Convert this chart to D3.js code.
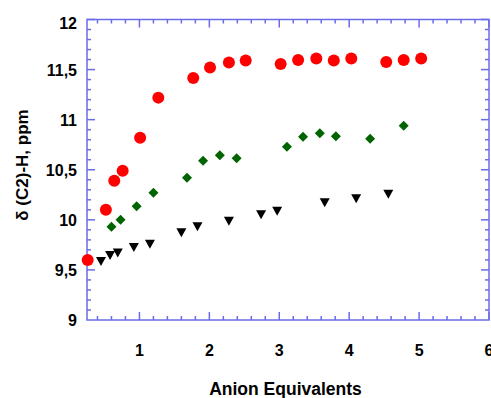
<!DOCTYPE html>
<html>
<head>
<meta charset="utf-8">
<script src="https://cdn.jsdelivr.net/npm/d3@7"></script>
<style>
  body { margin: 0; background: #fff; }
  svg text { font-family: "Liberation Sans", Arial, sans-serif; font-weight: bold; fill: #000; }
</style>
</head>
<body>
<script>
// red circles
const redX = [0.26, 0.52, 0.64, 0.76, 1.01, 1.27, 1.77, 2.01, 2.28, 2.52, 3.02, 3.27, 3.53, 3.78, 4.03, 4.53, 4.78, 5.03];
const redY = [9.6, 10.1, 10.39, 10.49, 10.82, 11.22, 11.415, 11.52, 11.57, 11.59, 11.555, 11.595, 11.61, 11.59, 11.61, 11.575, 11.595, 11.61];
// green diamonds
const greenX = [0.60, 0.73, 0.96, 1.20, 1.68, 1.91, 2.15, 2.39, 3.11, 3.34, 3.58, 3.81, 4.30, 4.78];
const greenY = [9.93, 10.0, 10.135, 10.27, 10.42, 10.59, 10.645, 10.615, 10.73, 10.83, 10.865, 10.835, 10.81, 10.94];
// black triangles
const blackX = [0.45, 0.58, 0.69, 0.92, 1.15, 1.60, 1.83, 2.28, 2.74, 2.97, 3.65, 4.10, 4.56];
const blackY = [9.59, 9.65, 9.675, 9.73, 9.76, 9.875, 9.935, 9.99, 10.055, 10.09, 10.175, 10.215, 10.26];

const xTicks = [1, 2, 3, 4, 5, 6];
const yTicks = [9, 9.5, 10, 10.5, 11, 11.5, 12];

const width = 491, height = 398;
const plotLeft = 87, plotRight = 489, plotTop = 19.5, plotBottom = 320;
const axisColor = '#6b6bea';

const svg = d3.select('body').append('svg')
  .attr('width', width)
  .attr('height', height);

const x = d3.scaleLinear().domain([0.25, 6]).range([plotLeft, plotRight]);
const y = d3.scaleLinear().domain([9, 12]).range([plotBottom, plotTop]);

const fmt = v => String(v).replace('.', ',');

// frame
const frame = svg.append('g')
  .attr('stroke', axisColor)
  .attr('stroke-width', 1.5)
  .attr('fill', 'none');
frame.append('rect')
  .attr('x', plotLeft).attr('y', plotTop)
  .attr('width', plotRight - plotLeft).attr('height', plotBottom - plotTop);

// x ticks (minor every 0.2, major on integers), bottom and top, pointing inward
const xMinor = d3.range(0.4, 6.001, 0.2).map(v => +v.toFixed(1));
xMinor.forEach(v => {
  const major = Math.abs(v - Math.round(v)) < 1e-6;
  const len = major ? 8 : 4;
  frame.append('line')
    .attr('x1', x(v)).attr('x2', x(v))
    .attr('y1', plotBottom).attr('y2', plotBottom - len);
  frame.append('line')
    .attr('x1', x(v)).attr('x2', x(v))
    .attr('y1', plotTop).attr('y2', plotTop + len);
});

// y ticks (minor every 0.1, major every 0.5), left and right
const yMinor = d3.range(9.1, 12.0, 0.1).map(v => +v.toFixed(1));
yMinor.forEach(v => {
  const major = Math.abs(v * 2 - Math.round(v * 2)) < 1e-6;
  const len = major ? 8 : 4;
  frame.append('line')
    .attr('x1', plotLeft).attr('x2', plotLeft + len)
    .attr('y1', y(v)).attr('y2', y(v));
  frame.append('line')
    .attr('x1', plotRight).attr('x2', plotRight - len)
    .attr('y1', y(v)).attr('y2', y(v));
});

// tick labels
svg.append('g').selectAll('text')
  .data(xTicks)
  .enter()
  .append('text')
  .attr('x', d => x(d))
  .attr('y', 356)
  .attr('font-size', 16)
  .attr('text-anchor', 'middle')
  .text(d => fmt(d));

// top label is pushed down a bit so it stays inside
svg.append('g').selectAll('text')
  .data(yTicks)
  .enter()
  .append('text')
  .attr('x', 77)
  .attr('y', d => Math.max(y(d) + 6, 28.5))
  .attr('font-size', 16)
  .attr('text-anchor', 'end')
  .text(d => fmt(d));

// axis titles
svg.append('text')
  .attr('x', 285.5)
  .attr('y', 395)
  .attr('font-size', 17.5)
  .attr('text-anchor', 'middle')
  .text('Anion Equivalents');

svg.append('text')
  .attr('transform', 'translate(28,165) rotate(-90)')
  .attr('font-size', 17)
  .attr('text-anchor', 'middle')
  .text('δ (C2)-H, ppm');

// markers
const red = d3.zip(redX, redY);
const green = d3.zip(greenX, greenY);
const black = d3.zip(blackX, blackY);

svg.append('g').selectAll('circle')
  .data(red)
  .enter()
  .append('circle')
  .attr('cx', d => x(d[0]))
  .attr('cy', d => y(d[1]))
  .attr('r', 6)
  .attr('fill', '#ff0000');

svg.append('g').selectAll('path')
  .data(green)
  .enter()
  .append('path')
  .attr('d', d => {
    const cx = x(d[0]), cy = y(d[1]), r = 5;
    return `M ${cx} ${cy - r} L ${cx + r} ${cy} L ${cx} ${cy + r} L ${cx - r} ${cy} Z`;
  })
  .attr('fill', '#006400');

svg.append('g').selectAll('path')
  .data(black)
  .enter()
  .append('path')
  .attr('d', d => {
    const cx = x(d[0]), cy = y(d[1]);
    return `M ${cx - 5} ${cy - 4} L ${cx + 5} ${cy - 4} L ${cx} ${cy + 5} Z`;
  })
  .attr('fill', '#000');
</script>
</body>
</html>
